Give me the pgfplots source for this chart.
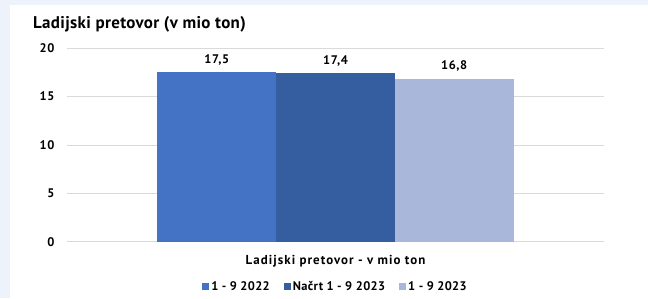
\documentclass[border=0pt]{standalone}
\usepackage{pgfplots}
\pgfplotsset{compat=1.18}
\usepackage{fontspec}
\setmainfont{PT Sans}
\newfontfamily\lsfont[LetterSpace=8]{PT Sans}
\newfontfamily\tkfont[LetterSpace=5]{PT Sans}
\newfontfamily\lgfont[LetterSpace=3]{PT Sans}
\newfontfamily\tfont[LetterSpace=2]{PT Sans}
\definecolor{bgc}{HTML}{EEF2FA}
\definecolor{cA}{HTML}{4472C4}
\definecolor{cB}{HTML}{355EA0}
\definecolor{cC}{HTML}{A9B7DA}
\definecolor{gridc}{HTML}{DADADA}
\begin{document}
\begin{tikzpicture}[x=1bp,y=1bp]
\fill[bgc] (0,0) rectangle (648,298);
\fill[white] (10,0) rectangle (648,293);
\node[anchor=base west, inner sep=0pt, font=\tfont\bfseries\fontsize{17}{19}\selectfont] at (33,270) {Ladijski pretovor (v mio ton)};
\begin{axis}[
  at={(67bp,56.3bp)}, anchor=south west,
  scale only axis, width=537bp, height=193.4bp,
  xmin=-1, xmax=1, ymin=0, ymax=20,
  axis line style={draw=none}, tick style={draw=none},
  ymajorgrids, grid style={gridc, line width=1bp},
  ytick={0,5,10,15,20}, xtick=\empty,
  /pgf/number format/assume math mode=true,
  yticklabel style={font=\tkfont\bfseries\fontsize{12.5}{14}\selectfont, anchor=east, xshift=-9bp},
  ybar=0pt, bar width=118.7bp,
  nodes near coords,
  nodes near coords style={font=\tkfont\bfseries\fontsize{12.5}{14}\selectfont,
    /pgf/number format/use comma, /pgf/number format/fixed,
    /pgf/number format/fixed zerofill, /pgf/number format/precision=1,
    yshift=4bp},
  legend columns=3,
  legend style={at={(0.5,-0.233)}, anchor=center, draw=none, fill=none,
    font=\lgfont\bfseries\fontsize{12.5}{15}\selectfont},
  legend cell align=left,
  legend image code/.code={\fill (0bp,-3.5bp) rectangle (7bp,3.5bp);},
]
\addplot[fill=cA, draw=none] coordinates {(0,17.5)};
\addplot[fill=cB, draw=none] coordinates {(0,17.4)};
\addplot[fill=cC, draw=none] coordinates {(0,16.8)};
\legend{1 - 9 2022\hspace*{12bp}, Načrt 1 - 9 2023\hspace*{12bp}, 1 - 9 2023}
\end{axis}
\node[font=\lsfont\bfseries\fontsize{13}{15}\selectfont] at (335.5,37) {Ladijski pretovor - v mio ton};
\end{tikzpicture}
\end{document}
